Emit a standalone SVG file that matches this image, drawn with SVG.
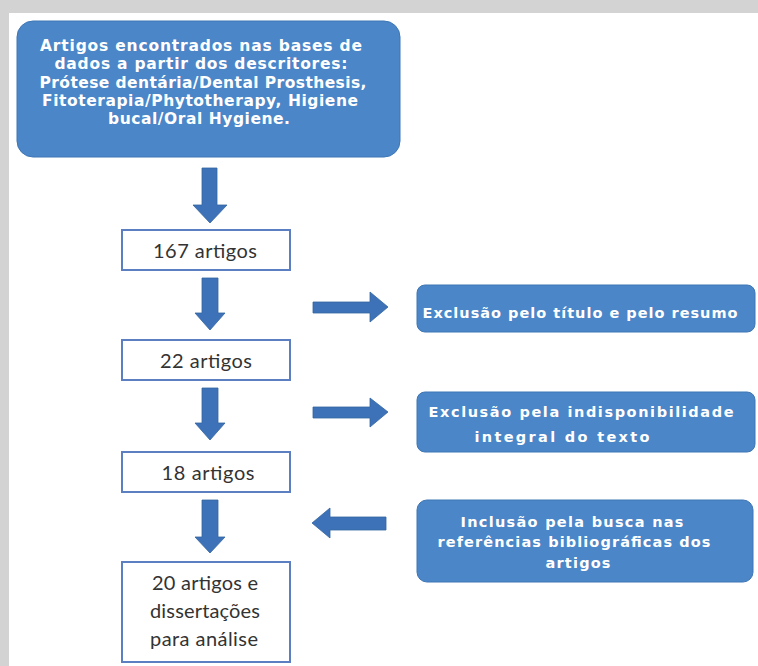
<svg xmlns="http://www.w3.org/2000/svg" width="758" height="666" viewBox="0 0 758 666">
<style>
.bg{fill:#ffffff}
.frame{fill:#d3d3d3}
.blue{fill:#4a86c8;stroke:#3f76b5;stroke-width:1}
.wbox{fill:#ffffff;stroke:#5b7fc0;stroke-width:2}
.arrow{fill:#3d72b8;stroke:#33649f;stroke-width:0.8}
.wt{font-family:"DejaVu Sans","Liberation Sans",sans-serif;font-weight:bold;fill:#ffffff;text-anchor:middle}
.dt{font-family:Lato,"Open Sans",sans-serif;fill:#333333;text-anchor:middle;font-size:20px}
</style>
<rect class="frame" x="0" y="0" width="758" height="666"/>
<rect class="bg" x="9" y="13" width="749" height="653"/>
<g id="connectors">
<polygon class="arrow" points="202,168 217,168 217,205 227,205 210,223 193,205 202,205"/>
<polygon class="arrow" points="202,278 218,278 218,313 225,313 210,330 195,313 202,313"/>
<polygon class="arrow" points="202,388 218,388 218,423 225,423 210,440 195,423 202,423"/>
<polygon class="arrow" points="202,500 218,500 218,537 225,537 210,553 195,537 202,537"/>
<polygon class="arrow" points="313,302 370,302 370,292 388,307 370,322 370,313 313,313"/>
<polygon class="arrow" points="313,407 370,407 370,398 388,412 370,427 370,418 313,418"/>
<polygon class="arrow" points="386,517 330,517 330,508 312,523 330,538 330,530 386,530"/>
</g>
<g id="n_top">
<rect class="blue" x="17" y="21" width="383" height="136" rx="16"/>
<text class="wt" font-size="15.5"><tspan x="201" y="51" textLength="322" lengthAdjust="spacing">Artigos encontrados nas bases de</tspan><tspan x="201" y="69" textLength="293" lengthAdjust="spacing">dados a partir dos descritores:</tspan><tspan x="203" y="88" textLength="327" lengthAdjust="spacing">Prótese dentária/Dental Prosthesis,</tspan><tspan x="200" y="106" textLength="316" lengthAdjust="spacing">Fitoterapia/Phytotherapy, Higiene</tspan><tspan x="199" y="124" textLength="182" lengthAdjust="spacing">bucal/Oral Hygiene.</tspan></text>
</g>
<g id="n_167">
<rect class="wbox" x="122" y="230" width="168" height="40"/>
<text class="dt" x="205" y="258" textLength="104" lengthAdjust="spacing">167 artigos</text>
</g>
<g id="n_22">
<rect class="wbox" x="122" y="340" width="168" height="40"/>
<text class="dt" x="206" y="368" textLength="92" lengthAdjust="spacing">22 artigos</text>
</g>
<g id="n_18">
<rect class="wbox" x="122" y="452" width="168" height="40"/>
<text class="dt" x="208" y="480" textLength="93" lengthAdjust="spacing">18 artigos</text>
</g>
<g id="n_final">
<rect class="wbox" x="122" y="562" width="168" height="100"/>
<text class="dt"><tspan x="205" y="590" textLength="106" lengthAdjust="spacing">20 artigos e</tspan><tspan x="205" y="618" textLength="110" lengthAdjust="spacing">dissertações</tspan><tspan x="204" y="646" textLength="108" lengthAdjust="spacing">para análise</tspan></text>
</g>
<g id="n_excl1">
<rect class="blue" x="417" y="285" width="338" height="47" rx="8"/>
<text class="wt" font-size="14.5" x="580" y="318" textLength="315" lengthAdjust="spacing">Exclusão pelo título e pelo resumo</text>
</g>
<g id="n_excl2">
<rect class="blue" x="417" y="392" width="338" height="60" rx="8"/>
<text class="wt" font-size="14.5"><tspan x="581" y="417" textLength="305" lengthAdjust="spacing">Exclusão pela indisponibilidade</tspan><tspan x="562" y="442" textLength="175" lengthAdjust="spacing">integral do texto</tspan></text>
</g>
<g id="n_incl">
<rect class="blue" x="417" y="500" width="336" height="82" rx="10"/>
<text class="wt" font-size="14.5"><tspan x="572" y="527" textLength="223" lengthAdjust="spacing">Inclusão pela busca nas</tspan><tspan x="574" y="547" textLength="273" lengthAdjust="spacing">referências bibliográficas dos</tspan><tspan x="578" y="568" textLength="65" lengthAdjust="spacing">artigos</tspan></text>
</g>
</svg>
